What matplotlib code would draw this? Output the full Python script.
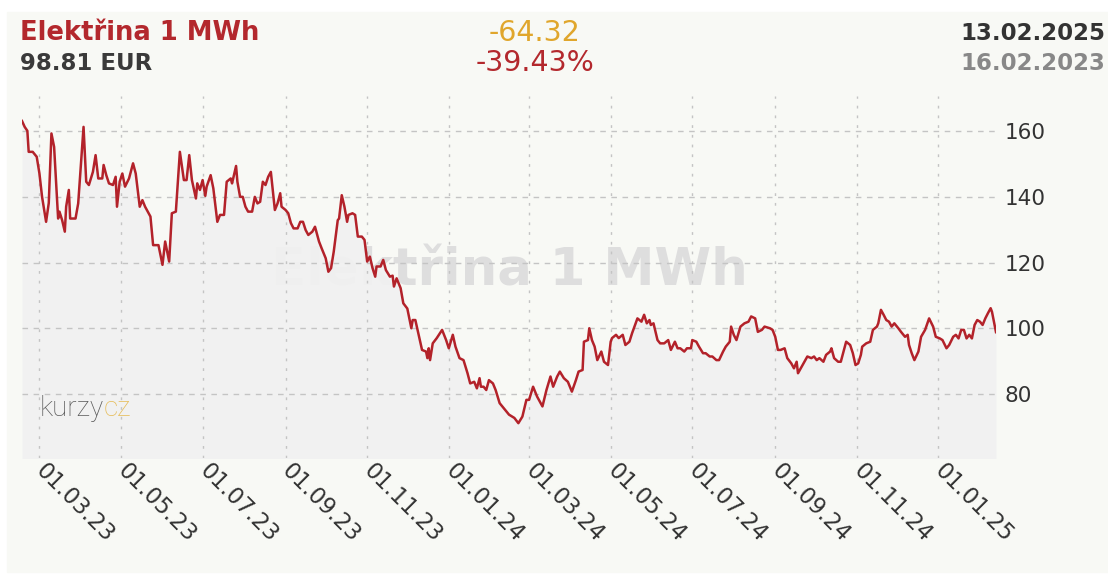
import matplotlib.pyplot as plt
import matplotlib.dates as mdates
import numpy as np

# daily price of 1 MWh (days counted from 16.02.2023)
start_date = np.datetime64('2023-02-16')
day_offsets = [
    0, 2, 4, 5, 8, 11, 13, 15, 18, 20, 22, 24, 27, 28, 30, 32, 33, 35, 36, 40,
    42, 46, 48, 50, 53, 55, 57, 60, 61, 63, 65, 68, 70, 71, 73, 75, 77, 80, 83, 85,
    88, 90, 92, 96, 98, 102, 105, 107, 110, 112, 115, 118, 121, 123, 125, 127, 130, 131, 133, 135,
    137, 138, 141, 143, 146, 148, 151, 153, 156, 157, 160, 161, 163, 165, 167, 169, 172, 174, 176, 178,
    180, 182, 184, 186, 189, 191, 193, 194, 197, 199, 201, 203, 206, 208, 210, 212, 214, 217, 219, 222,
    224, 227, 229, 231, 233, 236, 237, 239, 241, 243, 244, 247, 249, 251, 254, 256, 258, 260, 262, 264,
    265, 268, 270, 272, 275, 277, 278, 280, 283, 285, 288, 291, 292, 294, 297, 299, 302, 303, 304, 305,
    307, 310, 314, 317, 319, 322, 324, 327, 330, 333, 335, 338, 340, 342, 343, 345, 347, 349, 352, 354,
    357, 360, 364, 368, 371, 374, 377, 379, 382, 385, 389, 392, 395, 397, 400, 402, 405, 408, 411, 414,
    416, 419, 420, 423, 424, 426, 428, 430, 433, 435, 438, 440, 441, 444, 446, 449, 451, 454, 456, 460,
    463, 465, 467, 469, 470, 472, 475, 477, 480, 483, 485, 488, 490, 492, 495, 497, 500, 501, 504, 506,
    509, 511, 514, 516, 519, 521, 524, 526, 529, 530, 532, 534, 537, 540, 543, 545, 548, 550, 553, 555,
    559, 561, 563, 565, 567, 570, 572, 575, 577, 579, 580, 583, 585, 587, 590, 592, 594, 596, 599, 601,
    604, 605, 607, 610, 612, 614, 616, 619, 621, 623, 625, 627, 628, 631, 634, 636, 639, 640, 642, 644,
    646, 648, 650, 652, 655, 657, 660, 662, 663, 665, 667, 670, 672, 675, 678, 681, 683, 686, 688, 691,
    693, 696, 698, 700, 702, 704, 706, 708, 710, 712, 714, 716, 718, 720, 722, 724, 725, 728,
]
prices = [
    163.1, 161.3, 160.1, 153.7, 153.7, 152.2, 147.2, 140.0, 132.4, 138.1, 159.3, 155.2, 133.4, 135.5, 132.9, 129.4, 137.0, 142.1, 133.4, 133.4,
    138.0, 161.3, 144.6, 143.6, 147.6, 152.7, 145.6, 145.6, 149.7, 146.6, 144.1, 143.6, 146.1, 137.0, 144.6, 147.1, 143.1, 145.6, 150.2, 147.1,
    137.0, 139.0, 137.0, 134.0, 125.3, 125.3, 119.3, 126.4, 120.3, 135.0, 135.5, 153.7, 145.1, 145.1, 152.7, 145.1, 139.5, 144.1, 142.1, 145.1,
    140.3, 143.1, 146.6, 142.6, 132.4, 134.5, 134.5, 144.6, 145.6, 144.1, 149.4, 144.6, 140.0, 140.0, 137.0, 135.5, 135.5, 140.0, 138.0, 138.5,
    144.6, 143.6, 146.1, 147.6, 136.0, 138.0, 141.1, 137.0, 136.0, 135.0, 132.0, 130.4, 130.4, 132.4, 132.4, 129.9, 128.4, 129.4, 130.9, 126.4,
    124.3, 121.3, 117.2, 118.3, 123.3, 132.9, 133.4, 140.5, 137.0, 132.4, 134.5, 135.0, 134.5, 127.9, 127.9, 126.9, 120.3, 121.8, 118.3, 115.7,
    118.8, 118.8, 120.8, 117.7, 115.7, 116.0, 112.7, 115.2, 112.2, 107.6, 106.0, 100.0, 102.5, 102.5, 97.0, 93.4, 92.9, 90.9, 93.9, 90.3,
    95.4, 97.0, 99.5, 96.4, 93.9, 98.0, 94.4, 90.9, 90.3, 86.3, 83.2, 83.7, 81.7, 84.8, 82.2, 82.2, 81.2, 84.2, 83.2, 81.2,
    77.2, 75.7, 73.7, 72.7, 71.1, 73.1, 78.2, 78.2, 82.2, 79.2, 76.2, 81.2, 85.3, 82.2, 85.3, 86.8, 84.8, 83.7, 80.7, 84.2,
    86.8, 87.3, 95.9, 96.4, 100.0, 96.4, 94.4, 90.3, 92.9, 89.8, 88.8, 95.9, 97.0, 98.0, 97.0, 98.0, 94.9, 95.9, 98.5, 103.0,
    102.0, 104.1, 101.5, 102.5, 101.0, 101.5, 96.4, 95.4, 95.4, 96.4, 93.4, 95.9, 93.9, 93.9, 92.9, 93.9, 93.9, 96.4, 95.9, 94.4,
    92.4, 92.4, 91.4, 91.4, 90.3, 90.3, 92.9, 94.4, 95.9, 100.5, 98.0, 96.4, 100.5, 101.5, 102.0, 103.6, 103.0, 98.9, 99.5, 100.5,
    100.0, 99.5, 97.4, 93.4, 93.4, 93.9, 90.9, 89.3, 87.8, 89.8, 86.3, 88.5, 90.0, 91.4, 90.9, 91.4, 90.3, 90.9, 89.8, 91.9,
    92.9, 93.9, 90.9, 89.8, 89.8, 92.9, 95.9, 94.9, 92.4, 88.8, 89.3, 91.9, 94.4, 95.4, 95.9, 99.5, 100.5, 101.5, 105.6, 104.1,
    102.5, 102.0, 100.5, 101.5, 100.0, 98.9, 97.4, 98.0, 94.9, 92.4, 90.3, 92.9, 97.4, 99.5, 103.0, 100.5, 97.4, 96.9, 96.4, 93.9,
    94.9, 97.4, 98.0, 96.9, 99.5, 99.5, 96.9, 98.0, 96.9, 101.0, 102.5, 102.0, 101.0, 103.0, 104.6, 106.1, 105.0, 98.81,
]
y_ticks = [80, 100, 120, 140, 160]

title = 'Elektřina 1 MWh'
last_price = '98.81 EUR'
abs_change = '-64.32'
pct_change = '-39.43%'
date_last = '13.02.2025'
date_first = '16.02.2023'

dates = start_date + np.array(day_offsets).astype('timedelta64[D]')

W, H = 1108, 577
fig = plt.figure(figsize=(W / 100, H / 100), dpi=100)
fig.patch.set_facecolor('white')
fig.patches.append(plt.Rectangle((7 / W, 5 / H), 1101 / W, 560 / H, transform=fig.transFigure,
                                 color='#f8f9f5', zorder=-10))

ax = fig.add_axes([22 / W, 119 / H, 974 / W, 362 / H])
ax.set_facecolor('none')
for s in ax.spines.values():
    s.set_visible(False)

# watermark sits behind the area fill, only the part above the line shows
ax.text(0.50, 0.515, title, transform=ax.transAxes, fontsize=37, fontweight='bold',
        color='#dedede', ha='center', va='center', zorder=0.5)
ax.fill_between(dates, prices, 0, color='#f1f1f1', alpha=0.95, lw=0, zorder=1)
ax.plot(dates, prices, color='#b3222a', lw=1.8, zorder=3)

ax.set_xlim(dates[0], dates[-1])
ax.set_ylim(60.5, 170.7)

ax.set_axisbelow(False)
ax.grid(axis='y', color='#c4c4c4', lw=1, linestyle=(0, (4, 4)))
ax.grid(axis='x', color='#c4c4c4', lw=1, linestyle=(0, (2, 5)))

ax.yaxis.tick_right()
ax.set_yticks(y_ticks)
ax.tick_params(axis='y', length=0, pad=6, labelsize=15.5, labelcolor='#333333')
ax.xaxis.set_major_locator(mdates.MonthLocator(bymonth=[1, 3, 5, 7, 9, 11]))
ax.xaxis.set_major_formatter(mdates.DateFormatter('%d.%m.%y'))
ax.tick_params(axis='x', length=0, pad=7, labelsize=16.3, labelcolor='#333333')
for lbl in ax.get_xticklabels():
    lbl.set_rotation(-45)
    lbl.set_ha('left')
    lbl.set_va('center')
    lbl.set_rotation_mode('anchor')

# kurzy.cz logo
logo = ax.text(18 / 974, 0.115, 'kurzy', transform=ax.transAxes, fontsize=20,
               family='Roboto', fontweight='light', color='#5a5a5a', ha='left', va='baseline', zorder=2)
fig.canvas.draw()
bb = logo.get_window_extent().transformed(ax.transAxes.inverted())
ax.text(bb.x1, 0.115, 'cz', transform=ax.transAxes, fontsize=20,
        family='Roboto', fontweight='light', color='#e6bb55', ha='left', va='baseline', zorder=2)

# header
fig.text(20 / W, 1 - 33 / H, title, fontsize=18.6, fontweight='bold', color='#b3282d', va='center')
fig.text(20 / W, 1 - 63 / H, last_price, fontsize=16.5, fontweight='bold', color='#3a3a3a', va='center')
fig.text(535 / W, 1 - 33 / H, abs_change, fontsize=20.5, color='#e0a62c', ha='center', va='center')
fig.text(535 / W, 1 - 63 / H, pct_change, fontsize=20.5, color='#b3282d', ha='center', va='center')
fig.text(1105 / W, 1 - 33 / H, date_last, fontsize=16.5, fontweight='bold', color='#333333',
         ha='right', va='center')
fig.text(1105 / W, 1 - 63 / H, date_first, fontsize=16.5, fontweight='bold', color='#888888',
         ha='right', va='center')

fig.savefig('out.png', dpi=100)
